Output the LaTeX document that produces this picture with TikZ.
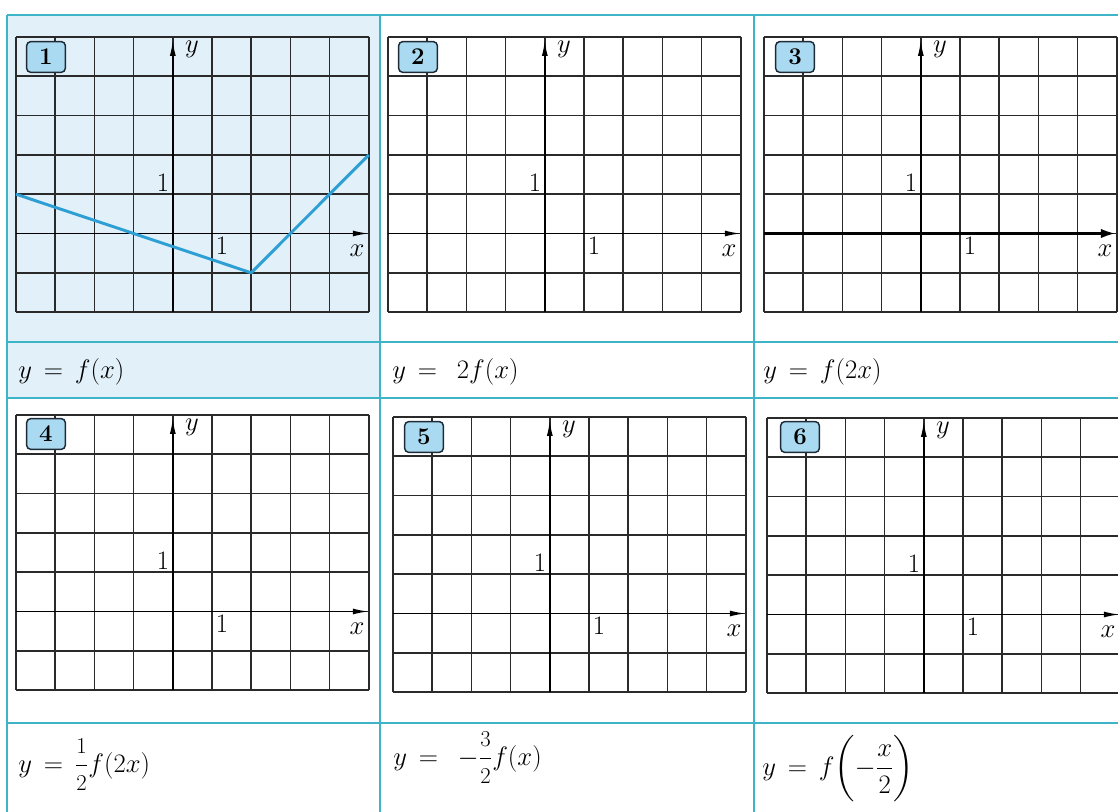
\RequirePackage{fix-cm}
\documentclass[tikz,border=0pt]{standalone}
\usepackage{amsmath}
\usetikzlibrary{arrows.meta}
\definecolor{tealline}{HTML}{3DB5C6}
\definecolor{bgblue}{HTML}{E2F1F9}
\definecolor{badgefill}{HTML}{A9DAF1}
\definecolor{badgeline}{HTML}{1E2B36}
\definecolor{curveblue}{HTML}{2D9FD5}
\definecolor{gridc}{HTML}{2A2A2A}
\tikzset{
  gridline/.style={draw=gridc, line width=1.2pt},
  axisline/.style={draw=black, line width=1.2pt, -{Latex[length=12pt,width=4.5pt]}},
  thickaxis/.style={draw=black, line width=2.4pt, -{Latex[length=12pt,width=7pt]}},
  tableline/.style={draw=tealline, line width=1.5pt},
  lbl/.style={font=\fontsize{20}{20}\selectfont, inner sep=0.5pt},
  formula/.style={font=\fontsize{20}{24}\selectfont, inner sep=0pt, anchor=base west},
  badge/.style={rectangle, rounded corners=3pt, fill=badgefill, draw=badgeline,
    line width=1.1pt, minimum width=29pt, minimum height=23pt, inner sep=0pt,
    font=\fontsize{18}{18}\selectfont\bfseries},
  curve/.style={draw=curveblue, line width=2.2pt, line join=round}
}
\newcommand\gridpanel[4]{%
  \begin{scope}[shift={(#1,#2)}]
    \foreach \i in {0,...,9} \draw[gridline] (\i*39.2,0) -- (\i*39.2,275.1);
    \foreach \j in {0,...,7} \draw[gridline] (0,\j*39.3) -- (352.8,\j*39.3);
    \coordinate (ybot#3) at (156.8,275.1);
    \coordinate (ytop#3) at (156.8,3);
    \coordinate (xleft#3) at (0,196.5);
    \coordinate (xright#3) at (352.8,196.5);
    \draw[axisline] (ybot#3) -- (ytop#3);
    \draw[#4] (xleft#3) -- (xright#3);
    \node[lbl, anchor=south east] (uy#3) at (154,155) {1};
    \node[lbl, anchor=north west] (ux#3) at (199,199) {1};
    \node[lbl] (ylab#3) at (176,12) {$y$};
    \node[lbl] (xlab#3) at (341,214) {$x$};
  \end{scope}}
\newcommand\badgeat[3]{\node[badge] (b#3) at (#1,#2) {#3};}
\newcommand\fd[1]{\mbox{\fontsize{17}{17}\selectfont #1}}
\newcommand\fm[1]{$\thickmuskip=8mu\relax #1$}
\begin{document}
\begin{tikzpicture}[x=0.75pt,y=-0.75pt]
  \useasboundingbox (0,0) rectangle (1118,812);
  % background of first cell
  \fill[bgblue] (7,15) rectangle (380,398);
  % table lines
  \foreach \yy in {15,342,398,723} \draw[tableline] (7,\yy) -- (1118,\yy);
  \foreach \xx in {7,380,754} \draw[tableline] (\xx,15) -- (\xx,812);
  % panels
  \gridpanel{16}{37}{1}{axisline}
  \gridpanel{388}{37}{2}{axisline}
  \gridpanel{764}{37}{3}{thickaxis}
  \gridpanel{16}{415}{4}{axisline}
  \gridpanel{393}{417}{5}{axisline}
  \gridpanel{767}{418}{6}{axisline}
  % graph of f
  \begin{scope}[shift={(16,37)}]
    \coordinate (p1) at (0,157.2);
    \coordinate (p2) at (235.2,235.8);
    \coordinate (p3) at (352.8,117.9);
    \draw[curve] (p1) -- (p2) -- (p3);
  \end{scope}
  % badges
  \badgeat{46}{57}{1}
  \badgeat{418}{57}{2}
  \badgeat{795}{57}{3}
  \badgeat{46}{434}{4}
  \badgeat{424}{437}{5}
  \badgeat{800}{437}{6}
  % formulas
  \node[formula] (f1) at (18,379) {\fm{y = f(x)}};
  \node[formula] (f2) at (392,379) {\fm{y =\ 2f(x)}};
  \node[formula] (f3) at (763,379) {\fm{y = f(2x)}};
  \node[formula] (f4) at (18,772) {\fm{y = \dfrac{\fd{1}}{\fd{2}}f(2x)}};
  \node[formula] (f5) at (393,765) {\fm{y =\ -\dfrac{\fd{3}}{\fd{2}}f(x)}};
  \node[formula] (f6) at (762,775) {\fm{y = f\biggl(-\dfrac{x}{2}\biggr)}};
\end{tikzpicture}
\end{document}
